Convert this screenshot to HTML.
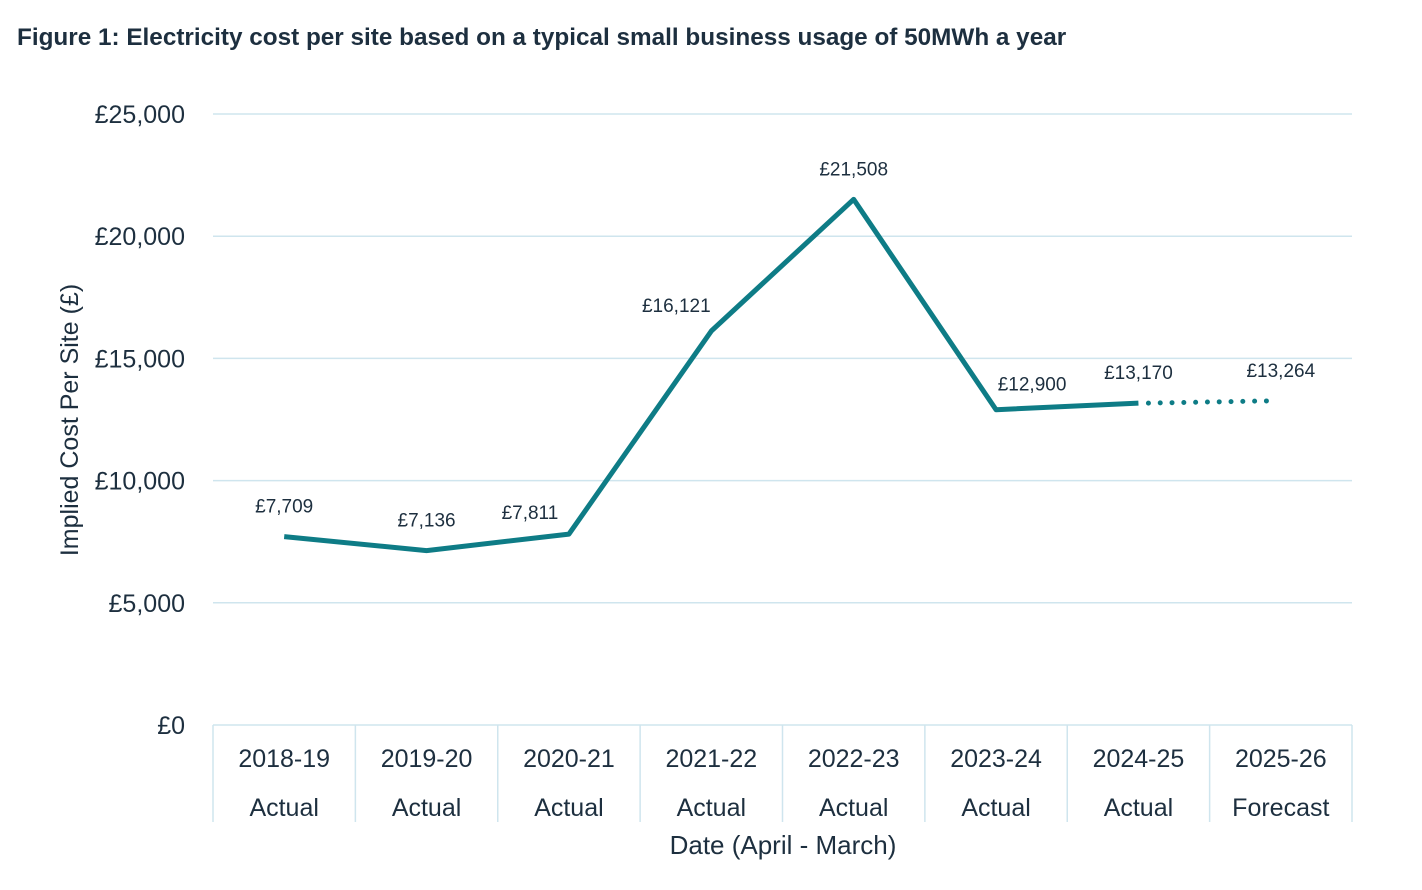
<!DOCTYPE html>
<html><head><meta charset="utf-8"><style>
body{margin:0;background:#fff;width:1422px;height:885px;overflow:hidden;font-family:"Liberation Sans",sans-serif}
svg text{font-family:"Liberation Sans",sans-serif;fill:#1d2f3f}
</style></head><body>
<svg id="chart" width="1422" height="885">
<text x="17" y="45" font-size="24.3" font-weight="bold">Figure 1: Electricity cost per site based on a typical small business usage of 50MWh a year</text>
<text transform="translate(78,420) rotate(-90)" text-anchor="middle" font-size="25">Implied Cost Per Site (£)</text>
<text x="783" y="854" text-anchor="middle" font-size="26">Date (April - March)</text>
<g id="grid"></g><g id="xaxis"></g><g id="series"></g><g id="labels"></g>
</svg>
<script>
const years=["2018-19","2019-20","2020-21","2021-22","2022-23","2023-24","2024-25","2025-26"];
const kinds=["Actual","Actual","Actual","Actual","Actual","Actual","Actual","Forecast"];
const values=[7709,7136,7811,16121,21508,12900,13170,13264];
const valueLabels=["£7,709","£7,136","£7,811","£16,121","£21,508","£12,900","£13,170","£13,264"];
const yTicks=[0,5000,10000,15000,20000,25000];
const yTickLabels=["£0","£5,000","£10,000","£15,000","£20,000","£25,000"];
const NS="http://www.w3.org/2000/svg";
const x0=213,x1=1352,yBot=725,yTop=114,yMax=25000;
const bw=(x1-x0)/years.length;
const X=i=>x0+bw*(i+0.5);
const Y=v=>yBot-(v/yMax)*(yBot-yTop);
const labelDx={2:-39,3:-35,5:36};
const labelDy={2:-15,3:-19,5:-19};
function mk(tag,attrs,parent,txt){const e=document.createElementNS(NS,tag);for(const k in attrs)e.setAttribute(k,attrs[k]);if(txt!==undefined)e.textContent=txt;document.getElementById(parent).appendChild(e);return e;}
yTicks.forEach((t,i)=>{
 const l=mk('line',{x1:x0,x2:x1,y1:Y(t),y2:Y(t),stroke:'#cfe5ee','stroke-width':1.5},'grid');
 
 
 const tx=mk('text',{x:185,y:Y(t)+9,'text-anchor':'end','font-size':25},'grid',yTickLabels[i]);
 
 
});
for(let i=0;i<=years.length;i++){
 const l=mk('line',{x1:x0+bw*i,x2:x0+bw*i,y1:yBot,y2:822,stroke:'#cfe5ee','stroke-width':1.5},'xaxis');
 
 
}
years.forEach((y,i)=>{
 const a=mk('text',{x:X(i),y:767,'text-anchor':'middle','font-size':25},'xaxis',y);
 
 
 const b=mk('text',{x:X(i),y:816,'text-anchor':'middle','font-size':25},'xaxis',kinds[i]);
 
 
});
const nA=kinds.indexOf("Forecast");
let d='';for(let i=0;i<nA;i++)d+=(i?'L':'M')+X(i)+','+Y(values[i]);
const p=mk('path',{d:d,fill:'none',stroke:'#0e7c86','stroke-width':5,'stroke-linejoin':'round'},'series');


const f=mk('line',{x1:X(nA-1)+10,y1:Y(values[nA-1]),x2:X(nA)-8,y2:Y(values[nA]),stroke:'#0e7c86','stroke-width':5,'stroke-linecap':'round','stroke-dasharray':'0 11.8'},'series');


values.forEach((v,i)=>{
 const t=mk('text',{x:X(i)+(labelDx[i]||0),y:Y(v)+(labelDy[i]||-24),'text-anchor':'middle','font-size':19},'labels',valueLabels[i]);
 
 
});
</script>
</body></html>
